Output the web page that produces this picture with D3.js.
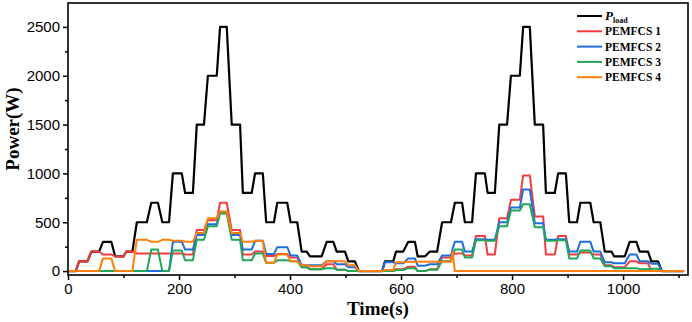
<!DOCTYPE html>
<html>
<head>
<meta charset="utf-8">
<script src="https://cdn.jsdelivr.net/npm/d3@7"></script>
<style>
    body { margin: 0; background: #fff; }
    svg { display: block; }
</style>
</head>
<body>
<div class="power-chart"></div>
<script>

// flat parts of the profile: start / end time (s)
const segStart = [0, 20, 42, 63, 85, 105, 124, 150, 170, 189,
    211, 232, 252, 274, 295, 315, 337, 357, 377, 401,
    421, 436, 466, 484, 505, 524, 571, 591, 613, 630,
    652, 674, 693, 697, 715, 735, 756, 777, 798, 820,
    841, 861, 883, 903, 923, 947, 967, 984, 1012, 1030,
    1051, 1070];
const segEnd = [14, 35, 56, 78, 100, 116, 142, 162, 182, 205,
    225, 245, 268, 286, 310, 331, 351, 371, 395, 413,
    430, 457, 478, 499, 517, 566, 586, 604, 625, 643,
    665, 690, 693, 710, 728, 751, 769, 791, 814, 832,
    856, 877, 897, 917, 941, 959, 979, 1003, 1024, 1045,
    1063, 1110];

// power (W) on each flat part
const loadPower = [0, 100, 200, 300, 150, 200, 500, 700, 500, 1000,
    800, 1500, 2000, 2500, 1500, 800, 1000, 500, 700, 500,
    200, 150, 300, 200, 100, 0, 100, 200, 300, 150,
    200, 500, 590, 700, 500, 1000, 800, 1500, 2000, 2500,
    1500, 800, 1000, 500, 700, 500, 200, 150, 300, 200,
    100, 0];
const pemfcs1 = [0, 100, 200, 170, 150, 200, 180, 180, 180, 180,
    170, 420, 520, 700, 420, 170, 200, 155, 175, 140,
    40, 20, 70, 15, 0, 0, 0, 20, 45, 0,
    20, 140, 160, 180, 160, 360, 170, 540, 730, 980,
    560, 170, 360, 170, 190, 170, 60, 40, 100, 80,
    0, 0];
const pemfcs2 = [0, 0, 0, 0, 0, 0, 0, 0, 0, 300,
    220, 370, 480, 600, 370, 220, 310, 175, 245, 160,
    60, 60, 100, 70, 40, 0, 90, 80, 130, 55,
    70, 160, 230, 300, 200, 325, 320, 500, 650, 835,
    490, 320, 325, 200, 300, 200, 90, 80, 170, 100,
    75, 0];
const pemfcs3 = [0, 0, 0, 0, 0, 0, 0, 220, 0, 210,
    110, 320, 460, 590, 320, 110, 180, 85, 110, 100,
    40, 20, 30, 15, 0, 0, 0, 10, 30, 0,
    15, 104, 162, 220, 140, 315, 310, 460, 620, 685,
    450, 310, 315, 130, 210, 130, 50, 30, 30, 20,
    25, 0];
const pemfcs4 = [0, 0, 0, 130, 0, 0, 320, 300, 320, 310,
    300, 390, 540, 610, 390, 300, 310, 85, 170, 100,
    60, 50, 100, 100, 60, 0, 10, 90, 95, 95,
    95, 96, 200, 0, 0, 0, 0, 0, 0, 0,
    0, 0, 0, 0, 0, 0, 0, 0, 0, 0,
    0, 0];

const seriesNames = ["load", "PEMFCS 1", "PEMFCS 2", "PEMFCS 3", "PEMFCS 4"];
const seriesValues = [loadPower, pemfcs1, pemfcs2, pemfcs3, pemfcs4];
const seriesColors = ["#000000", "#f43c3c", "#1e6ede", "#1fa85a", "#ff7f0a"];

const xTicks = [0, 200, 400, 600, 800, 1000];
const xMinorTicks = [100, 300, 500, 700, 900, 1100];
const yTicks = [0, 500, 1000, 1500, 2000, 2500];
const yMinorTicks = [250, 750, 1250, 1750, 2250];

// constants
const width = 692;
const height = 322;
const plot_left = 68, plot_right = 688, plot_top = 3, plot_bottom = 275;

const svg = d3.select(".power-chart").append("svg")
    .attr("width", width)
    .attr("height", height);

// scales
const x_scale = d3.scaleLinear().domain([0, 1117]).range([plot_left, plot_right]);
const y_scale = d3.scaleLinear().domain([-40, 2745]).range([plot_bottom, plot_top]);

// x axis
svg.append("g")
    .attr("transform", "translate(0," + plot_bottom + ")")
    .call(d3.axisBottom(x_scale).tickValues(xTicks).tickSize(5).tickPadding(3).tickFormat(d3.format("d")));
svg.append("g")
    .attr("transform", "translate(0," + plot_bottom + ")")
    .call(d3.axisBottom(x_scale).tickValues(xMinorTicks).tickSize(3).tickFormat(""));

// y axis
svg.append("g")
    .attr("transform", "translate(" + plot_left + ",0)")
    .call(d3.axisLeft(y_scale).tickValues(yTicks).tickSize(5).tickPadding(3).tickFormat(d3.format("d")));
svg.append("g")
    .attr("transform", "translate(" + plot_left + ",0)")
    .call(d3.axisLeft(y_scale).tickValues(yMinorTicks).tickSize(3).tickFormat(""));

svg.selectAll(".domain").remove();
svg.selectAll(".tick line").attr("stroke", "#000").attr("stroke-width", 1.5);
svg.selectAll(".tick text")
    .attr("fill", "#000")
    .style("font-family", "'Liberation Sans', Arial, sans-serif")
    .style("font-size", "15px");

// lines
const line = d3.line()
    .x(d => x_scale(d[0]))
    .y(d => y_scale(d[1]));

seriesValues.forEach(function(values, k) {
    let points = [];
    values.forEach(function(v, i) {
        points.push([segStart[i], v]);
        if (segEnd[i] !== segStart[i]) {
            points.push([segEnd[i], v]);
        }
    });
    svg.append("path")
        .datum(points)
        .attr("fill", "none")
        .attr("stroke", seriesColors[k])
        .attr("stroke-width", k === 0 ? 2.2 : 2)
        .attr("stroke-linejoin", "round")
        .attr("d", line);
});

// frame
svg.append("rect")
    .attr("x", plot_left)
    .attr("y", plot_top)
    .attr("width", plot_right - plot_left)
    .attr("height", plot_bottom - plot_top)
    .attr("fill", "none")
    .attr("stroke", "#000")
    .attr("stroke-width", 1.6);

// axis titles
svg.append("text")
    .attr("x", 378)
    .attr("y", 315)
    .attr("text-anchor", "middle")
    .style("font-family", "'Liberation Serif', 'Times New Roman', serif")
    .style("font-weight", "bold")
    .style("font-size", "19px")
    .text("Time(s)");

svg.append("text")
    .attr("transform", "translate(19,129) rotate(-90)")
    .attr("text-anchor", "middle")
    .style("font-family", "'Liberation Serif', 'Times New Roman', serif")
    .style("font-weight", "bold")
    .style("font-size", "19px")
    .text("Power(W)");

// legend
const legend = svg.append("g")
    .style("font-family", "'Liberation Serif', 'Times New Roman', serif")
    .style("font-weight", "bold")
    .style("font-size", "11.5px");

seriesNames.forEach(function(name, k) {
    const ly = 16 + k * 15.3;
    legend.append("line")
        .attr("x1", 577).attr("x2", 602)
        .attr("y1", ly).attr("y2", ly)
        .attr("stroke", seriesColors[k])
        .attr("stroke-width", 2);
    const t = legend.append("text")
        .attr("x", 605)
        .attr("y", ly + 4);
    if (k === 0) {
        t.append("tspan").style("font-style", "italic").style("font-size", "13px").text("P");
        t.append("tspan").attr("dy", 3).style("font-size", "8px").text(name);
    } else {
        t.text(name);
    }
});

</script>
</body>
</html>
